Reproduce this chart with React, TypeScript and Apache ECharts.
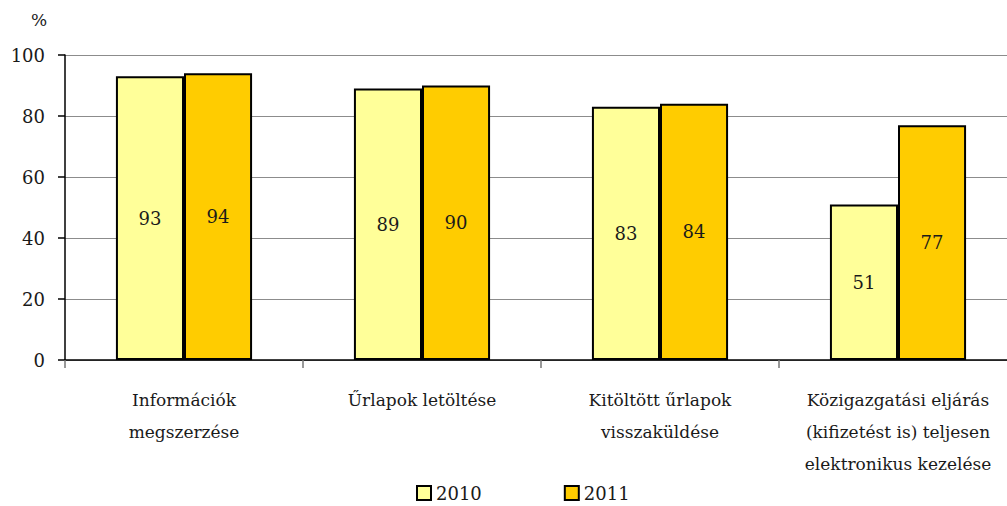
import React, { useEffect, useRef } from "react";
import * as echarts from "echarts";

const categories = [
  "Információk\nmegszerzése",
  "Űrlapok letöltése",
  "Kitöltött űrlapok\nvisszaküldése",
  "Közigazgatási eljárás\n(kifizetést is) teljesen\nelektronikus kezelése",
];
const series2010 = [93, 89, 83, 51];
const series2011 = [94, 90, 84, 77];
const yTicks = [0, 20, 40, 60, 80, 100];

const FONT = "DejaVu Serif";
const TEXT = "#1a1a1a";

export default function App() {
  const ref = useRef<HTMLDivElement>(null);
  useEffect(() => {
    if (!ref.current) return;
    const chart = echarts.init(ref.current, null, { renderer: "svg" });
    const barLabel = {
      show: true,
      position: "inside",
      color: TEXT,
      fontFamily: FONT,
      fontSize: 18,
    };
    chart.setOption({
      animation: false,
      backgroundColor: "#fff",
      textStyle: { fontFamily: FONT },
      grid: { left: 65, top: 55, right: 3, height: 305, containLabel: false },
      graphic: [
        {
          type: "text",
          left: 31,
          top: 11,
          style: { text: "%", fontFamily: FONT, fontSize: 17, fill: TEXT },
        },
      ],
      legend: {
        left: 411,
        top: 479,
        itemWidth: 14,
        itemHeight: 14,
        itemGap: 82,
        icon: "rect",
        textStyle: { fontFamily: FONT, fontSize: 18, color: TEXT },
        data: ["2010", "2011"],
      },
      xAxis: {
        type: "category",
        data: categories,
        axisLine: { lineStyle: { color: "#000", width: 1.5 } },
        axisTick: { show: true, length: 8, lineStyle: { color: "#777", width: 1.5 } },
        axisLabel: {
          fontFamily: FONT,
          fontSize: 17,
          color: TEXT,
          lineHeight: 32,
          margin: 24,
          interval: 0,
        },
      },
      yAxis: {
        type: "value",
        min: 0,
        max: 100,
        interval: 20,
        axisLine: { show: true, lineStyle: { color: "#000", width: 1.5 } },
        axisTick: { show: true, length: 7, lineStyle: { color: "#000", width: 1.5 } },
        axisLabel: {
          fontFamily: FONT,
          fontSize: 18,
          color: TEXT,
          margin: 20,
          formatter: (v: number) => (yTicks.includes(v) ? String(v) : ""),
        },
        splitLine: { show: true, lineStyle: { color: "#8c8c8c", width: 1.2 } },
      },
      series: [
        {
          name: "2010",
          type: "bar",
          data: series2010,
          barWidth: "28.6%",
          barGap: "0%",
          itemStyle: { color: "#FFFF99", borderColor: "#000", borderWidth: 2 },
          label: barLabel,
        },
        {
          name: "2011",
          type: "bar",
          data: series2011,
          barWidth: "28.6%",
          barGap: "0%",
          itemStyle: { color: "#FFCC00", borderColor: "#000", borderWidth: 2 },
          label: barLabel,
        },
      ],
    });
    return () => chart.dispose();
  }, []);
  return (
    <div style={{ position: "absolute", left: 0, top: 0, width: 1007, height: 506, overflow: "hidden" }}>
      <div ref={ref} style={{ width: 1020, height: 506 }} />
    </div>
  );
}
